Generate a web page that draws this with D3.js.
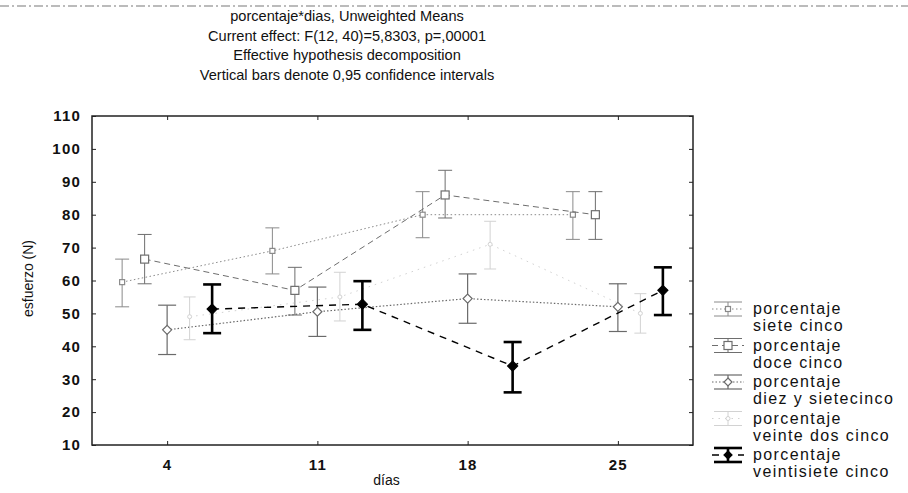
<!DOCTYPE html>
<html><head><meta charset="utf-8">
<script src="https://cdn.jsdelivr.net/npm/d3@7"></script>
<style>
body{margin:0;background:#fff;}
svg{display:block;font-family:"Liberation Sans",Arial,sans-serif;}
</style></head>
<body><svg id="c" width="908" height="493"></svg>
<script>
const days = ["4","11","18","25"];
const seriesNames = [
  ["porcentaje","siete cinco"],
  ["porcentaje","doce cinco"],
  ["porcentaje","diez y sietecinco"],
  ["porcentaje","veinte dos cinco"],
  ["porcentaje","veintisiete cinco"]
];
const means = [
  [59.5, 69, 80, 80],
  [66.5, 57, 86, 80],
  [45, 50.5, 54.5, 52],
  [49, 55, 71, 50],
  [51.3, 52.8, 34, 57]
];
const lows = [
  [52, 62, 73, 72.5],
  [59, 49.5, 79, 72.5],
  [37.5, 43, 47, 44.5],
  [42, 47.7, 63.5, 44],
  [44, 45, 26, 49.5]
];
const highs = [
  [66.5, 76, 87, 87],
  [74, 64, 93.5, 87],
  [52.5, 58, 62, 59],
  [55, 62.5, 78, 56],
  [58.8, 59.8, 41.3, 64]
];
const yTicks = [10,20,30,40,50,60,70,80,90,100,110];
const titleLines = [
  "porcentaje*dias, Unweighted Means",
  "Current effect: F(12, 40)=5,8303, p=,00001",
  "Effective hypothesis decomposition",
  "Vertical bars denote 0,95 confidence intervals"
];

const styles = [
  {color:"#8a8a8a", dash:"1.5,2.5", lw:1, cw:1, cap:14, marker:"square", ms:5},
  {color:"#6e6e6e", dash:"6,4", lw:1, cw:1, cap:14, marker:"square", ms:8},
  {color:"#6a6a6a", dash:"1.5,2", lw:1.2, cw:1.2, cap:18, marker:"diamond", ms:9},
  {color:"#d2d2d2", dash:"1.5,5", lw:1, cw:1, cap:12, marker:"circle", ms:4},
  {color:"#000000", dash:"7,6", lw:1.4, cw:2.6, cap:18, marker:"fdiamond", ms:10}
];

const svg = d3.select("#c");
const L=92, R=693, T=116, B=445;
const x = d3.scalePoint().domain(days).range([L,R]).padding(0.5);
const off = d3.scalePoint().domain(d3.range(5)).range([-45,45]);
const y = d3.scaleLinear().domain([10,110]).range([B,T]);

svg.append("line").attr("x1",0).attr("x2",908).attr("y1",6).attr("y2",6)
  .attr("stroke","#bbb").attr("stroke-width",2).attr("stroke-dasharray","9,3,2,3");

svg.append("g").selectAll("text").data(titleLines).join("text")
  .attr("x",347).attr("y",(d,i)=>21+i*19.5)
  .attr("text-anchor","middle").attr("font-size",14.6).attr("fill","#111")
  .text(d=>d);

const g = svg.append("g");
g.append("rect").attr("x",L).attr("y",T).attr("width",R-L).attr("height",B-T)
  .attr("fill","none").attr("stroke","#222").attr("stroke-width",1.5);

const yAxis = d3.axisLeft(y).tickValues(yTicks).tickSize(-4).tickPadding(10).tickFormat(d3.format("d"));
const ya = g.append("g").attr("transform",`translate(${L},0)`).call(yAxis);
ya.select(".domain").remove();
ya.selectAll("text").attr("font-size",15).attr("fill","#111").attr("x",-11)
  .attr("text-anchor","end").attr("letter-spacing",1.2).attr("font-weight","bold");
ya.selectAll("line").attr("stroke","#222");
const yAxisR = d3.axisRight(y).tickValues(yTicks).tickSize(-4).tickFormat("");
const yr = g.append("g").attr("transform",`translate(${R},0)`).call(yAxisR);
yr.select(".domain").remove(); yr.selectAll("line").attr("stroke","#222");

const xAxis = d3.axisBottom(x).tickSize(-4).tickPadding(14);
const xa = g.append("g").attr("transform",`translate(0,${B})`).call(xAxis);
xa.select(".domain").remove();
xa.selectAll("text").attr("font-size",15).attr("fill","#111").attr("letter-spacing",1.2).attr("font-weight","bold");
xa.selectAll("line").attr("stroke","#222");
const xAxisT = d3.axisTop(x).tickSize(-4).tickFormat("");
const xt = g.append("g").attr("transform",`translate(0,${T})`).call(xAxisT);
xt.select(".domain").remove(); xt.selectAll("line").attr("stroke","#222");

svg.append("text").attr("transform",`translate(33,${(T+B)/2-2}) rotate(-90)`)
  .attr("text-anchor","middle").attr("font-size",14).attr("fill","#111").text("esfuerzo (N)");
svg.append("text").attr("x",(L+R)/2-6).attr("y",485).attr("text-anchor","middle")
  .attr("font-size",14).attr("fill","#111").text("días");

function drawMarker(sel, st, cx, cy){
  const s = st.ms;
  if(st.marker==="square"){
    sel.append("rect").attr("x",cx-s/2).attr("y",cy-s/2).attr("width",s).attr("height",s)
      .attr("fill","#fff").attr("stroke",st.color).attr("stroke-width",1.2);
  } else if(st.marker==="diamond" || st.marker==="fdiamond"){
    const h=s/2;
    sel.append("path").attr("d",`M${cx},${cy-h}L${cx+h},${cy}L${cx},${cy+h}L${cx-h},${cy}Z`)
      .attr("fill",st.marker==="fdiamond"?"#000":"#fff").attr("stroke",st.color).attr("stroke-width",1.2);
  } else {
    sel.append("circle").attr("cx",cx).attr("cy",cy).attr("r",s/2)
      .attr("fill","#fff").attr("stroke",st.color).attr("stroke-width",1);
  }
}

const plot = svg.append("g");
means.forEach((ser,si)=>{
  const st = styles[si];
  const sg = plot.append("g");
  const line = d3.line().x((d,i)=>x(days[i])+off(si)).y(d=>y(d));
  sg.append("path").datum(ser).attr("d",line).attr("fill","none")
    .attr("stroke",st.color).attr("stroke-width",st.lw).attr("stroke-dasharray",st.dash);
  ser.forEach((m,i)=>{
    const cx = x(days[i])+off(si);
    sg.append("line").attr("x1",cx).attr("x2",cx).attr("y1",y(lows[si][i])).attr("y2",y(highs[si][i]))
      .attr("stroke",st.color).attr("stroke-width",st.cw);
    [lows[si][i],highs[si][i]].forEach(v=>{
      sg.append("line").attr("x1",cx-st.cap/2).attr("x2",cx+st.cap/2).attr("y1",y(v)).attr("y2",y(v))
        .attr("stroke",st.color).attr("stroke-width",st.cw);
    });
    drawMarker(sg, st, cx, y(m));
  });
});

const lg = svg.append("g");
seriesNames.forEach((nm,si)=>{
  const st = styles[si];
  const ty = 314 + si*36.5;
  const ix = 728, iy = ty-5;
  lg.append("line").attr("x1",ix-16).attr("x2",ix+16).attr("y1",iy).attr("y2",iy)
    .attr("stroke",st.color).attr("stroke-width",st.lw).attr("stroke-dasharray",st.dash);
  [iy-7, iy+7].forEach(yy=>{
    lg.append("line").attr("x1",ix-14).attr("x2",ix+14).attr("y1",yy).attr("y2",yy)
      .attr("stroke",st.color).attr("stroke-width",st.cw);
  });
  lg.append("line").attr("x1",ix).attr("x2",ix).attr("y1",iy-7).attr("y2",iy+7)
    .attr("stroke",st.color).attr("stroke-width",st.cw);
  drawMarker(lg, Object.assign({},st,{ms:Math.min(st.ms,8)}), ix, iy);
  nm.forEach((t,k)=>{
    lg.append("text").attr("x",753).attr("y",ty+k*17).attr("font-size",16)
      .attr("letter-spacing",1.4).attr("fill","#111").text(t);
  });
});
</script></body></html>
